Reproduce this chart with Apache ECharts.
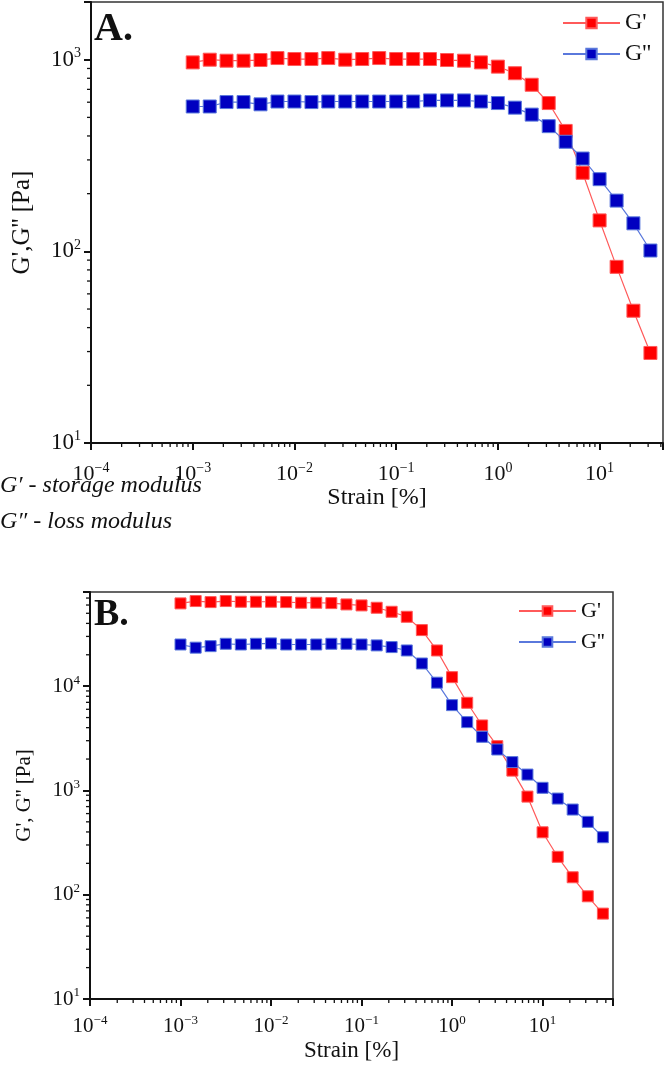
<!DOCTYPE html>
<html>
<head>
<meta charset="utf-8">
<script src="https://cdn.jsdelivr.net/npm/echarts@6/dist/echarts.min.js"></script>
<style>
  html, body { margin: 0; padding: 0; background: #fff; }
  #chart { width: 666px; height: 1065px; }
</style>
</head>
<body>
<div id="chart"></div>
<script>
// strain sweep [%]
const strainA = [0.001, 0.00147, 0.00215, 0.00316, 0.00464, 0.00681, 0.01, 0.0147, 0.0215, 0.0316, 0.0464, 0.0681,
  0.1, 0.147, 0.215, 0.316, 0.464, 0.681, 1, 1.47, 2.15, 3.16, 4.64, 6.81, 10, 14.7, 21.5, 31.6]
const gPrimeA = [968, 1000, 988, 988, 996, 1020, 1008, 1008, 1020, 1000, 1008, 1020,
  1008, 1008, 1008, 996, 988, 968, 920, 850, 740, 594, 425, 257, 145, 83, 49, 29.5]
const gDoubleA = [570, 570, 601, 601, 585, 605, 605, 601, 605, 605, 605, 605,
  605, 605, 613, 613, 613, 605, 594, 562, 517, 450, 373, 305, 238, 184, 140, 101]

const strainB = [0.001, 0.00147, 0.00215, 0.00316, 0.00464, 0.00681, 0.01, 0.0147, 0.0215, 0.0316, 0.0464, 0.0681,
  0.1, 0.147, 0.215, 0.316, 0.464, 0.681, 1, 1.47, 2.15, 3.16, 4.64, 6.81, 10, 14.7, 21.5, 31.6, 46.4]
const gPrimeB = [62200, 65500, 64000, 65500, 64500, 64500, 64500, 64000, 63100, 63100, 62600, 60800,
  59500, 56500, 51700, 46300, 34500, 22000, 12200, 6930, 4200, 2660, 1550, 873, 397, 231, 147, 96.6, 65.9]
const gDoubleB = [25100, 23400, 24200, 25500, 25100, 25500, 25700, 25100, 25100, 25100, 25500, 25500,
  25100, 24600, 23700, 22000, 16500, 10800, 6580, 4520, 3270, 2470, 1870, 1420, 1060, 836, 656, 500, 356]

const seriesNames = ["G'", "G''"]
const decades = [1e-4, 1e-3, 1e-2, 1e-1, 1, 10, 100, 1000, 10000]
const minorSteps = [2, 3, 4, 5, 6, 7, 8, 9]

const SERIF = '"Liberation Serif", "DejaVu Serif", serif'
const RED = '#ff0000'
const BLUE = '#0000c0'

const axA = { xMin: 1e-4, xMax: 42, yMin: 10, yMax: 2000 }
const axB = { xMin: 1e-4, xMax: 60, yMin: 10, yMax: 80000 }

function minorIn(lo, hi) {
  const out = []
  decades.forEach(d => minorSteps.forEach(m => {
    const v = d * m
    if (v > lo && v < hi) out.push(v)
  }))
  return out
}

function powLabel(v) {
  const l = Math.log10(v)
  const e = Math.round(l)
  if (Math.abs(l - e) > 1e-6) return ''
  return '{b|10}{s|' + String(e).replace('-', '\u2212') + '}'
}

function labelRich(size) {
  return {
    b: { fontFamily: SERIF, fontSize: size, color: '#111', lineHeight: size + 4 },
    s: { fontFamily: SERIF, fontSize: Math.round(size * 0.62), color: '#111', verticalAlign: 'top', lineHeight: 12 }
  }
}

function xAxis(idx, ax, size, gap, margin) {
  return {
    type: 'log', logBase: 10, gridIndex: idx, min: ax.xMin, max: ax.xMax,
    name: 'Strain [%]', nameLocation: 'middle', nameGap: gap,
    nameTextStyle: { fontFamily: SERIF, fontSize: size + 2, color: '#111' },
    axisLine: { lineStyle: { color: '#111', width: 2 } },
    axisTick: { inside: false, length: 7, lineStyle: { color: '#111', width: 2 } },
    axisLabel: { formatter: powLabel, rich: labelRich(size), margin: margin },
    splitLine: { show: false }
  }
}

function yAxis(idx, ax, name, size, nameSize, gap) {
  return {
    type: 'log', logBase: 10, gridIndex: idx, min: ax.yMin, max: ax.yMax,
    name: name, nameLocation: 'middle', nameGap: gap,
    nameTextStyle: { fontFamily: SERIF, fontSize: nameSize, color: '#111' },
    axisLine: { lineStyle: { color: '#111', width: 2 } },
    axisTick: { inside: false, length: 7, lineStyle: { color: '#111', width: 2 } },
    axisLabel: { formatter: powLabel, rich: labelRich(size), margin: 10 },
    splitLine: { show: false }
  }
}

function lineSeries(idx, name, xs, ys, color, lineColor, size) {
  return {
    name: name, type: 'line', xAxisIndex: idx, yAxisIndex: idx,
    data: xs.map((x, i) => [x, ys[i]]),
    symbol: 'rect', symbolSize: size,
    itemStyle: { color: color, borderColor: lineColor, borderWidth: 1 },
    lineStyle: { color: lineColor, width: 1.2 },
    z: 3
  }
}

function minorTicks(idx, ax, dir) {
  const vals = dir === 'x' ? minorIn(ax.xMin, ax.xMax) : minorIn(ax.yMin, ax.yMax)
  return {
    type: 'custom', xAxisIndex: idx, yAxisIndex: idx, silent: true, z: 4,
    data: vals.map(v => dir === 'x' ? [v, ax.yMin] : [ax.xMin, v]),
    renderItem(params, api) {
      const cs = params.coordSys
      const p = api.coord([api.value(0), api.value(1)])
      const shape = dir === 'x'
        ? { x1: p[0], y1: cs.y + cs.height, x2: p[0], y2: cs.y + cs.height + 4 }
        : { x1: cs.x, y1: p[1], x2: cs.x - 4, y2: p[1] }
      return { type: 'line', shape: shape, style: { stroke: '#111', lineWidth: 1.3 } }
    }
  }
}

const chart = echarts.init(document.getElementById('chart'))
chart.setOption({
  backgroundColor: '#fff',
  animation: false,
  grid: [
    { left: 91, right: 3, top: 2, bottom: 622, show: true, borderColor: '#333', borderWidth: 1.5 },
    { left: 90, right: 53, top: 592, bottom: 66, show: true, borderColor: '#333', borderWidth: 1.5 }
  ],
  legend: [
    {
      data: seriesNames, orient: 'vertical', left: 562, top: 11, padding: 0,
      itemWidth: 57, itemHeight: 13, itemGap: 7,
      textStyle: { fontFamily: SERIF, fontSize: 24, color: '#111' }
    },
    {
      data: seriesNames, orient: 'vertical', left: 518, top: 600, padding: 0,
      itemWidth: 57, itemHeight: 12, itemGap: 9,
      textStyle: { fontFamily: SERIF, fontSize: 22, color: '#111' }
    }
  ],
  xAxis: [xAxis(0, axA, 22, 37, 18), xAxis(1, axB, 21, 40, 15)],
  yAxis: [yAxis(0, axA, "G',G'' [Pa]", 23, 25, 56), yAxis(1, axB, "G', G'' [Pa]", 21, 21, 55)],
  series: [
    lineSeries(0, seriesNames[0], strainA, gPrimeA, RED, '#ff5a5a', 13),
    lineSeries(0, seriesNames[1], strainA, gDoubleA, BLUE, '#5a78dc', 13),
    lineSeries(1, seriesNames[0], strainB, gPrimeB, RED, '#ff5a5a', 11),
    lineSeries(1, seriesNames[1], strainB, gDoubleB, BLUE, '#5a78dc', 11),
    minorTicks(0, axA, 'x'), minorTicks(0, axA, 'y'),
    minorTicks(1, axB, 'x'), minorTicks(1, axB, 'y')
  ],
  graphic: [
    { type: 'text', left: 94, top: 10, style: { text: 'A.', font: 'bold 40px ' + SERIF, fill: '#111' } },
    { type: 'text', left: 94, top: 596, style: { text: 'B.', font: 'bold 38px ' + SERIF, fill: '#111' } },
    { type: 'text', left: 0, top: 474, style: { text: 'G\u2032 - storage modulus', font: 'italic 24px ' + SERIF, fill: '#111' } },
    { type: 'text', left: 0, top: 510, style: { text: 'G\u2033 - loss modulus', font: 'italic 24px ' + SERIF, fill: '#111' } }
  ]
})
</script>
</body>
</html>
